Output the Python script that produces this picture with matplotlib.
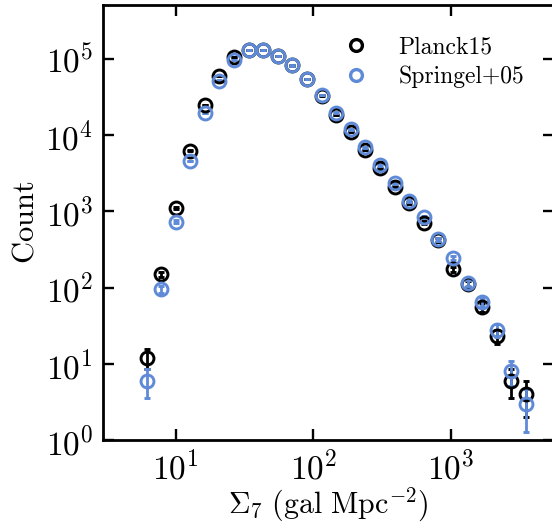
import numpy as np
import matplotlib
matplotlib.use('Agg')
import matplotlib.pyplot as plt
from matplotlib.lines import Line2D
from matplotlib.ticker import LogLocator, NullLocator

plt.rcParams['mathtext.fontset'] = 'cm'
plt.rcParams['font.family'] = 'serif'
plt.rcParams['font.serif'] = ['cmr10', 'DejaVu Serif']
plt.rcParams['axes.formatter.use_mathtext'] = True

# bin centres of Sigma_7 (gal Mpc^-2)
sigma7 = [6.15, 7.85, 10.0, 12.8, 16.3, 20.8, 26.6, 34.0, 43.4, 55.3,
          70.6, 90.2, 115, 147, 187, 239, 305, 390, 498, 635,
          811, 1035, 1321, 1687, 2153, 2748, 3508]

# counts per bin
planck15 = [12, 150, 1100, 6260, 24900, 59800, 105000, 131000, 130000, 109000,
            82000, 54000, 33000, 18400, 11100, 6390, 3680, 2110, 1300, 711,
            420, 174, 111, 56, 23, 6, 4]
springel05 = [6, 95, 733, 4580, 19400, 52000, 97000, 131000, 131000, 109000,
              82000, 54500, 33700, 19700, 11900, 6930, 4060, 2340, 1380, 836,
              430, 243, 116, 65, 28, 8, 3]

labels = ['Planck15', 'Springel+05']
colors = ['black', '#5F8AD8']

fig = plt.figure(figsize=(5.52, 5.24), dpi=100)
ax = fig.add_axes([103/552, 84/524, (554-103)/552, (440-5)/524])

handles = []
for counts, lab, c in zip([planck15, springel05], labels, colors):
   counts = np.array(counts, dtype=float)
   ax.errorbar(sigma7, counts, yerr=np.sqrt(counts), fmt='o', ms=9.3,
               mfc='none', mec=c, mew=2.1, ecolor=c, elinewidth=2,
               capsize=2.5, capthick=2)
   handles.append(Line2D([], [], ls='none', marker='o', ms=8.5, mfc='none',
                         mec=c, mew=2.4, label=lab))

ax.set_xscale('log')
ax.set_yscale('log')
ax.set_xlim(2.97, 5600)
ax.set_ylim(1, 5.1e5)

ax.xaxis.set_major_locator(LogLocator(base=10, numticks=10))
ax.yaxis.set_major_locator(LogLocator(base=10, numticks=10))
ax.xaxis.set_minor_locator(NullLocator())
ax.yaxis.set_minor_locator(NullLocator())

ax.tick_params(which='major', direction='in', length=8, width=1.7,
               top=True, right=True, labelsize=24, pad=7)
for s in ax.spines.values():
   s.set_linewidth(2)

ax.set_xlabel(r'$\Sigma_7\ (\mathrm{gal\ Mpc^{-2}})$', fontsize=21.5, labelpad=0)
ax.set_ylabel(r'$\mathrm{Count}$', fontsize=22, labelpad=4)

leg = ax.legend(handles=handles, loc='upper left', frameon=False,
                prop={'family': 'cmr10', 'size': 17},
                handletextpad=1.3, handlelength=1.0, labelspacing=0.31,
                borderpad=0.4, bbox_to_anchor=(0.488, 0.977))

fig.savefig('out.png', dpi=100)
